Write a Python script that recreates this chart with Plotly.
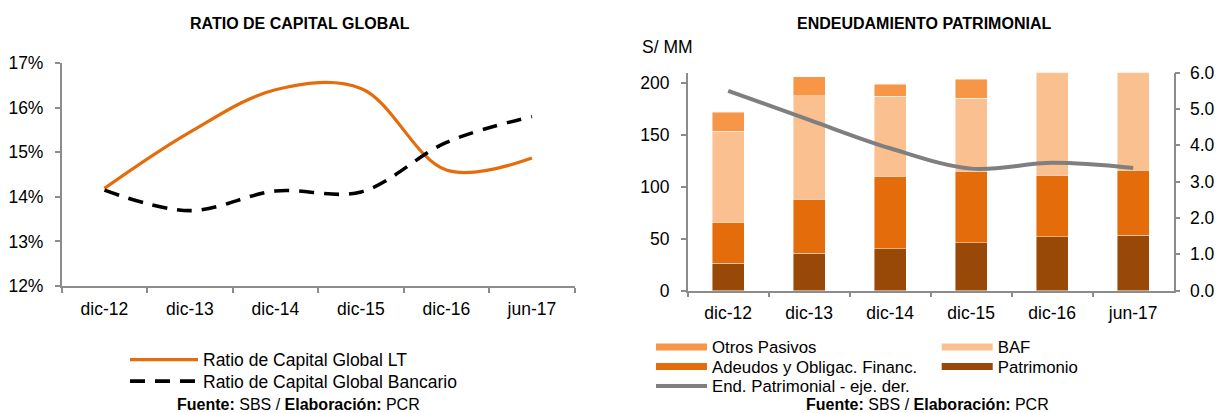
import plotly.graph_objects as go

# ---- data -------------------------------------------------------------
periodos = ["dic-12", "dic-13", "dic-14", "dic-15", "dic-16", "jun-17"]

# Ratio de capital global (%)
rcg_lt = [14.19, 15.45, 16.40, 16.43, 14.60, 14.87]
rcg_bancario = [14.15, 13.69, 14.13, 14.11, 15.22, 15.80]

# Estructura de financiamiento (S/ MM)
patrimonio = [26.3, 35.9, 40.3, 46.4, 51.8, 53.4]
adeudos = [39.6, 52.4, 70.1, 68.8, 59.5, 62.6]
baf = [87.7, 99.5, 76.7, 70.0, 104.0, 100.0]
otros_pasivos = [18.2, 18.2, 11.6, 18.6, 18.8, 17.9]

# Endeudamiento patrimonial (veces)
end_patrimonial = [5.50, 4.70, 3.92, 3.36, 3.52, 3.38]

# ---- styling ----------------------------------------------------------
W, H = 1217, 413
FONT = "Liberation Sans, Arial, sans-serif"
AX_COLOR = "#8c8c8c"
C_LT = "#E46C0A"
C_PAT = "#984807"
C_ADE = "#E46C0A"
C_BAF = "#FAC090"
C_OTR = "#F79646"
C_END = "#7F7F7F"
TICK_SIZE = 17.5
LEG_SIZE_R = 16.8
TITLE_SIZE = 16
NOTE_SIZE = 16


def px_x(v):
    return v / W


def px_y(v):
    return 1 - v / H


fig = go.Figure()

# ---- left panel: ratio de capital global -------------------------------
fig.add_trace(go.Scatter(
    x=periodos, y=rcg_lt, name="Ratio de Capital Global LT",
    mode="lines", line=dict(color=C_LT, width=3.2, shape="spline", smoothing=1),
    xaxis="x", yaxis="y", legend="legend",
))
fig.add_trace(go.Scatter(
    x=periodos, y=rcg_bancario, name="Ratio de Capital Global Bancario",
    mode="lines", line=dict(color="#000000", width=3.6, shape="spline", smoothing=1,
                            dash="15px,10px"),
    xaxis="x", yaxis="y", legend="legend2",
))

# ---- right panel: endeudamiento patrimonial ----------------------------
stack = [
    ("Patrimonio", patrimonio, C_PAT, "legend6"),
    ("Adeudos y Obligac. Financ.", adeudos, C_ADE, "legend5"),
    ("BAF", baf, C_BAF, "legend4"),
    ("Otros Pasivos", otros_pasivos, C_OTR, "legend3"),
]
for name, vals, color, leg in stack:
    fig.add_trace(go.Bar(
        x=periodos, y=vals, name=name, marker=dict(color=color,
        line=dict(color="rgba(255,255,255,0.55)", width=0.8)),
        xaxis="x2", yaxis="y2", legendgroup=name, showlegend=False,
    ))
    # wide swatch shown in the legend for this series
    fig.add_trace(go.Scatter(
        x=[None], y=[None], name=name, mode="lines",
        line=dict(color=color, width=7),
        xaxis="x2", yaxis="y2", legendgroup=name, legend=leg,
    ))

fig.add_trace(go.Scatter(
    x=periodos, y=end_patrimonial, name="End. Patrimonial - eje. der.",
    mode="lines", line=dict(color=C_END, width=4, shape="spline", smoothing=1),
    xaxis="x2", yaxis="y3", legend="legend7",
))

# ---- axes -------------------------------------------------------------
common_axis = dict(
    showline=True, linecolor=AX_COLOR, linewidth=1.5,
    ticks="outside", tickcolor=AX_COLOR, ticklen=5, tickwidth=1.5,
    showgrid=False, zeroline=False, automargin=False,
    tickfont=dict(family=FONT, size=TICK_SIZE, color="#000000"),
)
cat_axis = dict(common_axis, type="category", tickson="boundaries",
                range=[-0.5, 5.5], fixedrange=True, ticklabelstandoff=6)

fig.update_layout(
    xaxis=dict(cat_axis, domain=[px_x(61.7), px_x(574.7)], anchor="y"),
    yaxis=dict(common_axis, domain=[px_y(286), px_y(63)], anchor="x",
               range=[12, 17], dtick=1, ticksuffix="%", ticklabelstandoff=8),
    xaxis2=dict(cat_axis, domain=[px_x(687.7), px_x(1173.7)], anchor="y2"),
    yaxis2=dict(common_axis, domain=[px_y(290.7), px_y(72.7)], anchor="x2",
                range=[0, 210], tickvals=[0, 50, 100, 150, 200], ticklabelstandoff=8),
    yaxis3=dict(common_axis, overlaying="y2", side="right", anchor="x2",
                range=[0, 6], dtick=1, tickformat=".1f", ticklabelstandoff=6),
    barmode="stack",
    bargap=0.6,
)

# ---- legends: one entry per legend box, laid out as rows ---------------
legend_pos = {
    "legend": (125, 359.7, 68, TICK_SIZE),
    "legend2": (125, 381.3, 68, TICK_SIZE),
    "legend3": (651, 347.0, 51, LEG_SIZE_R),
    "legend4": (936.7, 347.0, 51, LEG_SIZE_R),
    "legend5": (651, 366.5, 51, LEG_SIZE_R),
    "legend6": (936.7, 366.5, 51, LEG_SIZE_R),
    "legend7": (651, 386.0, 51, LEG_SIZE_R),
}
for key, (lx, ly, iw, fs) in legend_pos.items():
    fig.update_layout({key: dict(
        x=px_x(lx), y=px_y(ly), xanchor="left", yanchor="middle",
        orientation="v", font=dict(family=FONT, size=fs, color="#000000"),
        itemwidth=iw, bgcolor="rgba(0,0,0,0)", borderwidth=0, tracegroupgap=0,
        itemclick=False, itemdoubleclick=False,
    )})

# ---- titles and notes -------------------------------------------------
ann = [
    dict(text="<b>RATIO DE CAPITAL GLOBAL</b>", x=px_x(300), y=px_y(23.5),
         size=TITLE_SIZE, xanchor="center"),
    dict(text="<b>ENDEUDAMIENTO PATRIMONIAL</b>", x=px_x(924), y=px_y(23.5),
         size=TITLE_SIZE, xanchor="center"),
    dict(text="S/ MM", x=px_x(640), y=px_y(47), size=TICK_SIZE, xanchor="left"),
    dict(text="<b>Fuente:</b> SBS / <b>Elaboración:</b> PCR", x=px_x(298),
         y=px_y(404.5), size=NOTE_SIZE, xanchor="center"),
    dict(text="<b>Fuente:</b> SBS / <b>Elaboración:</b> PCR", x=px_x(927),
         y=px_y(404.5), size=NOTE_SIZE, xanchor="center"),
]
for a in ann:
    fig.add_annotation(
        text=a["text"], x=a["x"], y=a["y"], xref="paper", yref="paper",
        xanchor=a["xanchor"], yanchor="middle", showarrow=False,
        font=dict(family=FONT, size=a["size"], color="#000000"),
    )

fig.update_layout(
    width=W, height=H,
    margin=dict(l=0, r=0, t=0, b=0, autoexpand=False),
    paper_bgcolor="#ffffff", plot_bgcolor="#ffffff",
    showlegend=True,
)

fig.write_html("out.html")
